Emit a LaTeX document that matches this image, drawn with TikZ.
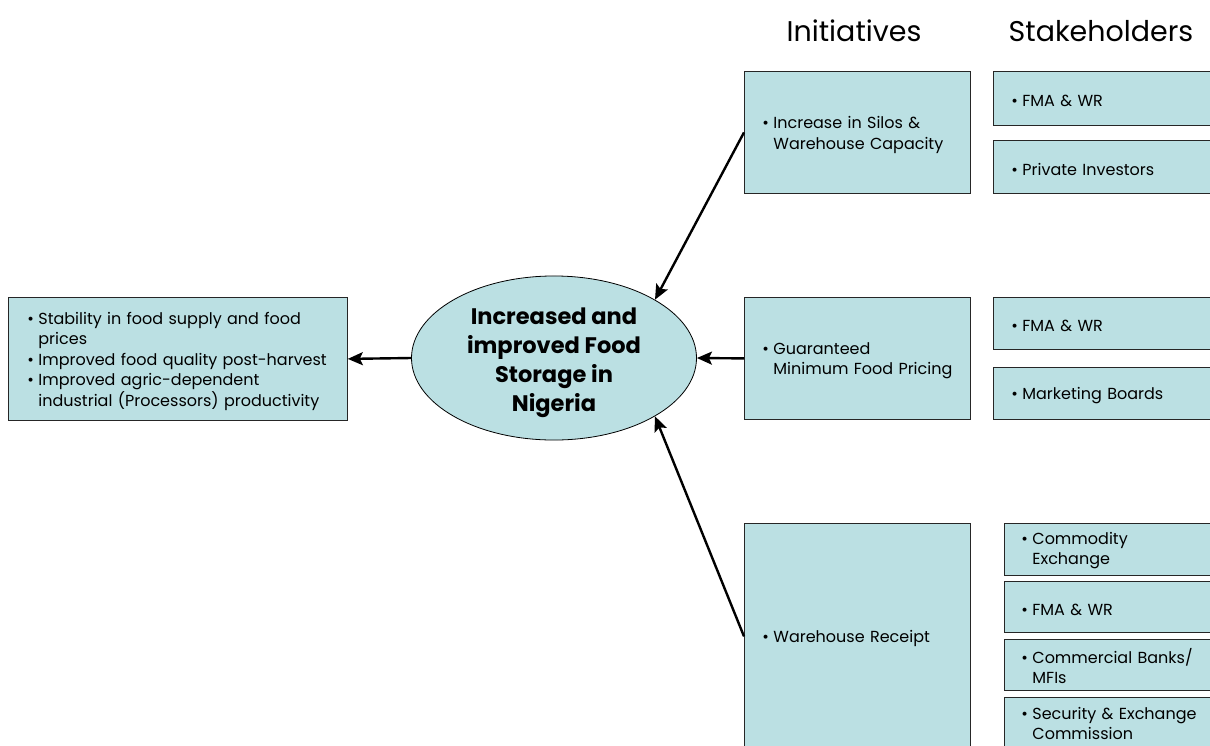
\documentclass[tikz,border=0pt]{standalone}
\usepackage{fontspec}
\setmainfont{Poppins}
\usetikzlibrary{shapes.geometric,arrows.meta}
\definecolor{boxfill}{RGB}{187,224,227}
\newcommand\bitem[1]{\par\hangindent=11pt\hangafter=1\noindent\makebox[11pt][l]{•}#1}
\newcommand\btext[4][-2.5pt]{\hspace*{#2}\raisebox{#1}[\height][\depth]{\parbox{#3}{#4}}}
\tikzset{
  box/.style={draw=black!85, fill=boxfill, line width=0.8pt, anchor=north west, align=left,
    inner xsep=0pt, inner ysep=0pt, font=\fontsize{16}{20.5}\selectfont},
  arr/.style={line width=2.4pt, -{Stealth[length=15pt,width=13pt,inset=3pt]}},
  head/.style={font=\fontsize{28.5}{32}\selectfont}
}
\begin{document}
\begin{tikzpicture}[x=1pt,y=-1pt]
\useasboundingbox (0,0) rectangle (1210,745);
% headings
\node[head] (h1) at (854,31) {Initiatives};
\node[head] (h2) at (1101,31) {Stakeholders};
% left outcome box
\node[box, minimum width=339pt, minimum height=123pt, text width=339pt] (out) at (8,297)
  {\btext{19pt}{318pt}{\bitem{Stability in food supply and food\\prices}
   \bitem{Improved food quality post-harvest}
   \bitem{Improved agric-dependent\\industrial (Processors) productivity}}};
% central ellipse
\node[ellipse, draw=black, line width=0.8pt, fill=boxfill, minimum width=285pt, minimum height=164pt,
  inner sep=0pt, font=\fontsize{22.5}{29}\selectfont\bfseries] (ell) at (554,358)
  {\raisebox{-4.5pt}[\height][\depth]{\begin{tabular}{@{}c@{}}Increased and\\improved Food\\Storage in\\Nigeria\end{tabular}}};
% initiatives
\node[box, minimum width=226pt, minimum height=122pt, text width=226pt] (i1) at (744,71)
  {\btext{18pt}{206pt}{\bitem{Increase in Silos \&\\Warehouse Capacity}}};
\node[box, minimum width=226pt, minimum height=122pt, text width=226pt] (i2) at (744,297)
  {\btext{18pt}{206pt}{\bitem{Guaranteed\\Minimum Food Pricing}}};
\node[box, minimum width=226pt, minimum height=226pt, text width=226pt] (i3) at (744,523)
  {\btext{18pt}{206pt}{\bitem{Warehouse Receipt}}};
% stakeholders
\node[box, minimum width=230pt, minimum height=54pt, text width=230pt] (s1) at (993,71)
  {\btext{18pt}{210pt}{\bitem{FMA \& WR}}};
\node[box, minimum width=230pt, minimum height=53pt, text width=230pt] (s2) at (993,140)
  {\btext{18pt}{210pt}{\bitem{Private Investors}}};
\node[box, minimum width=230pt, minimum height=52pt, text width=230pt] (s3) at (993,297)
  {\btext{18pt}{210pt}{\bitem{FMA \& WR}}};
\node[box, minimum width=230pt, minimum height=52pt, text width=230pt] (s4) at (993,367)
  {\btext{18pt}{210pt}{\bitem{Marketing Boards}}};
\node[box, minimum width=220pt, minimum height=52pt, text width=220pt] (s5) at (1004,523)
  {\btext[-1pt]{17pt}{200pt}{\bitem{Commodity\\Exchange}}};
\node[box, minimum width=220pt, minimum height=51pt, text width=220pt] (s6) at (1004,581)
  {\btext{17pt}{200pt}{\bitem{FMA \& WR}}};
\node[box, minimum width=220pt, minimum height=51pt, text width=220pt] (s7) at (1004,639)
  {\btext[-1pt]{17pt}{200pt}{\bitem{Commercial Banks/\\MFIs}}};
\node[box, minimum width=220pt, minimum height=52pt, text width=220pt] (s8) at (1004,697)
  {\btext[0pt]{17pt}{200pt}{\bitem{Security \& Exchange\\Commission}}};
% arrows
\draw[arr] (i1.west) -- (ell.30);
\draw[arr] (i2.west) -- (ell.east);
\draw[arr] (i3.west) -- (ell.-30);
\draw[arr] (ell.west) -- (out.east);
\end{tikzpicture}
\end{document}
